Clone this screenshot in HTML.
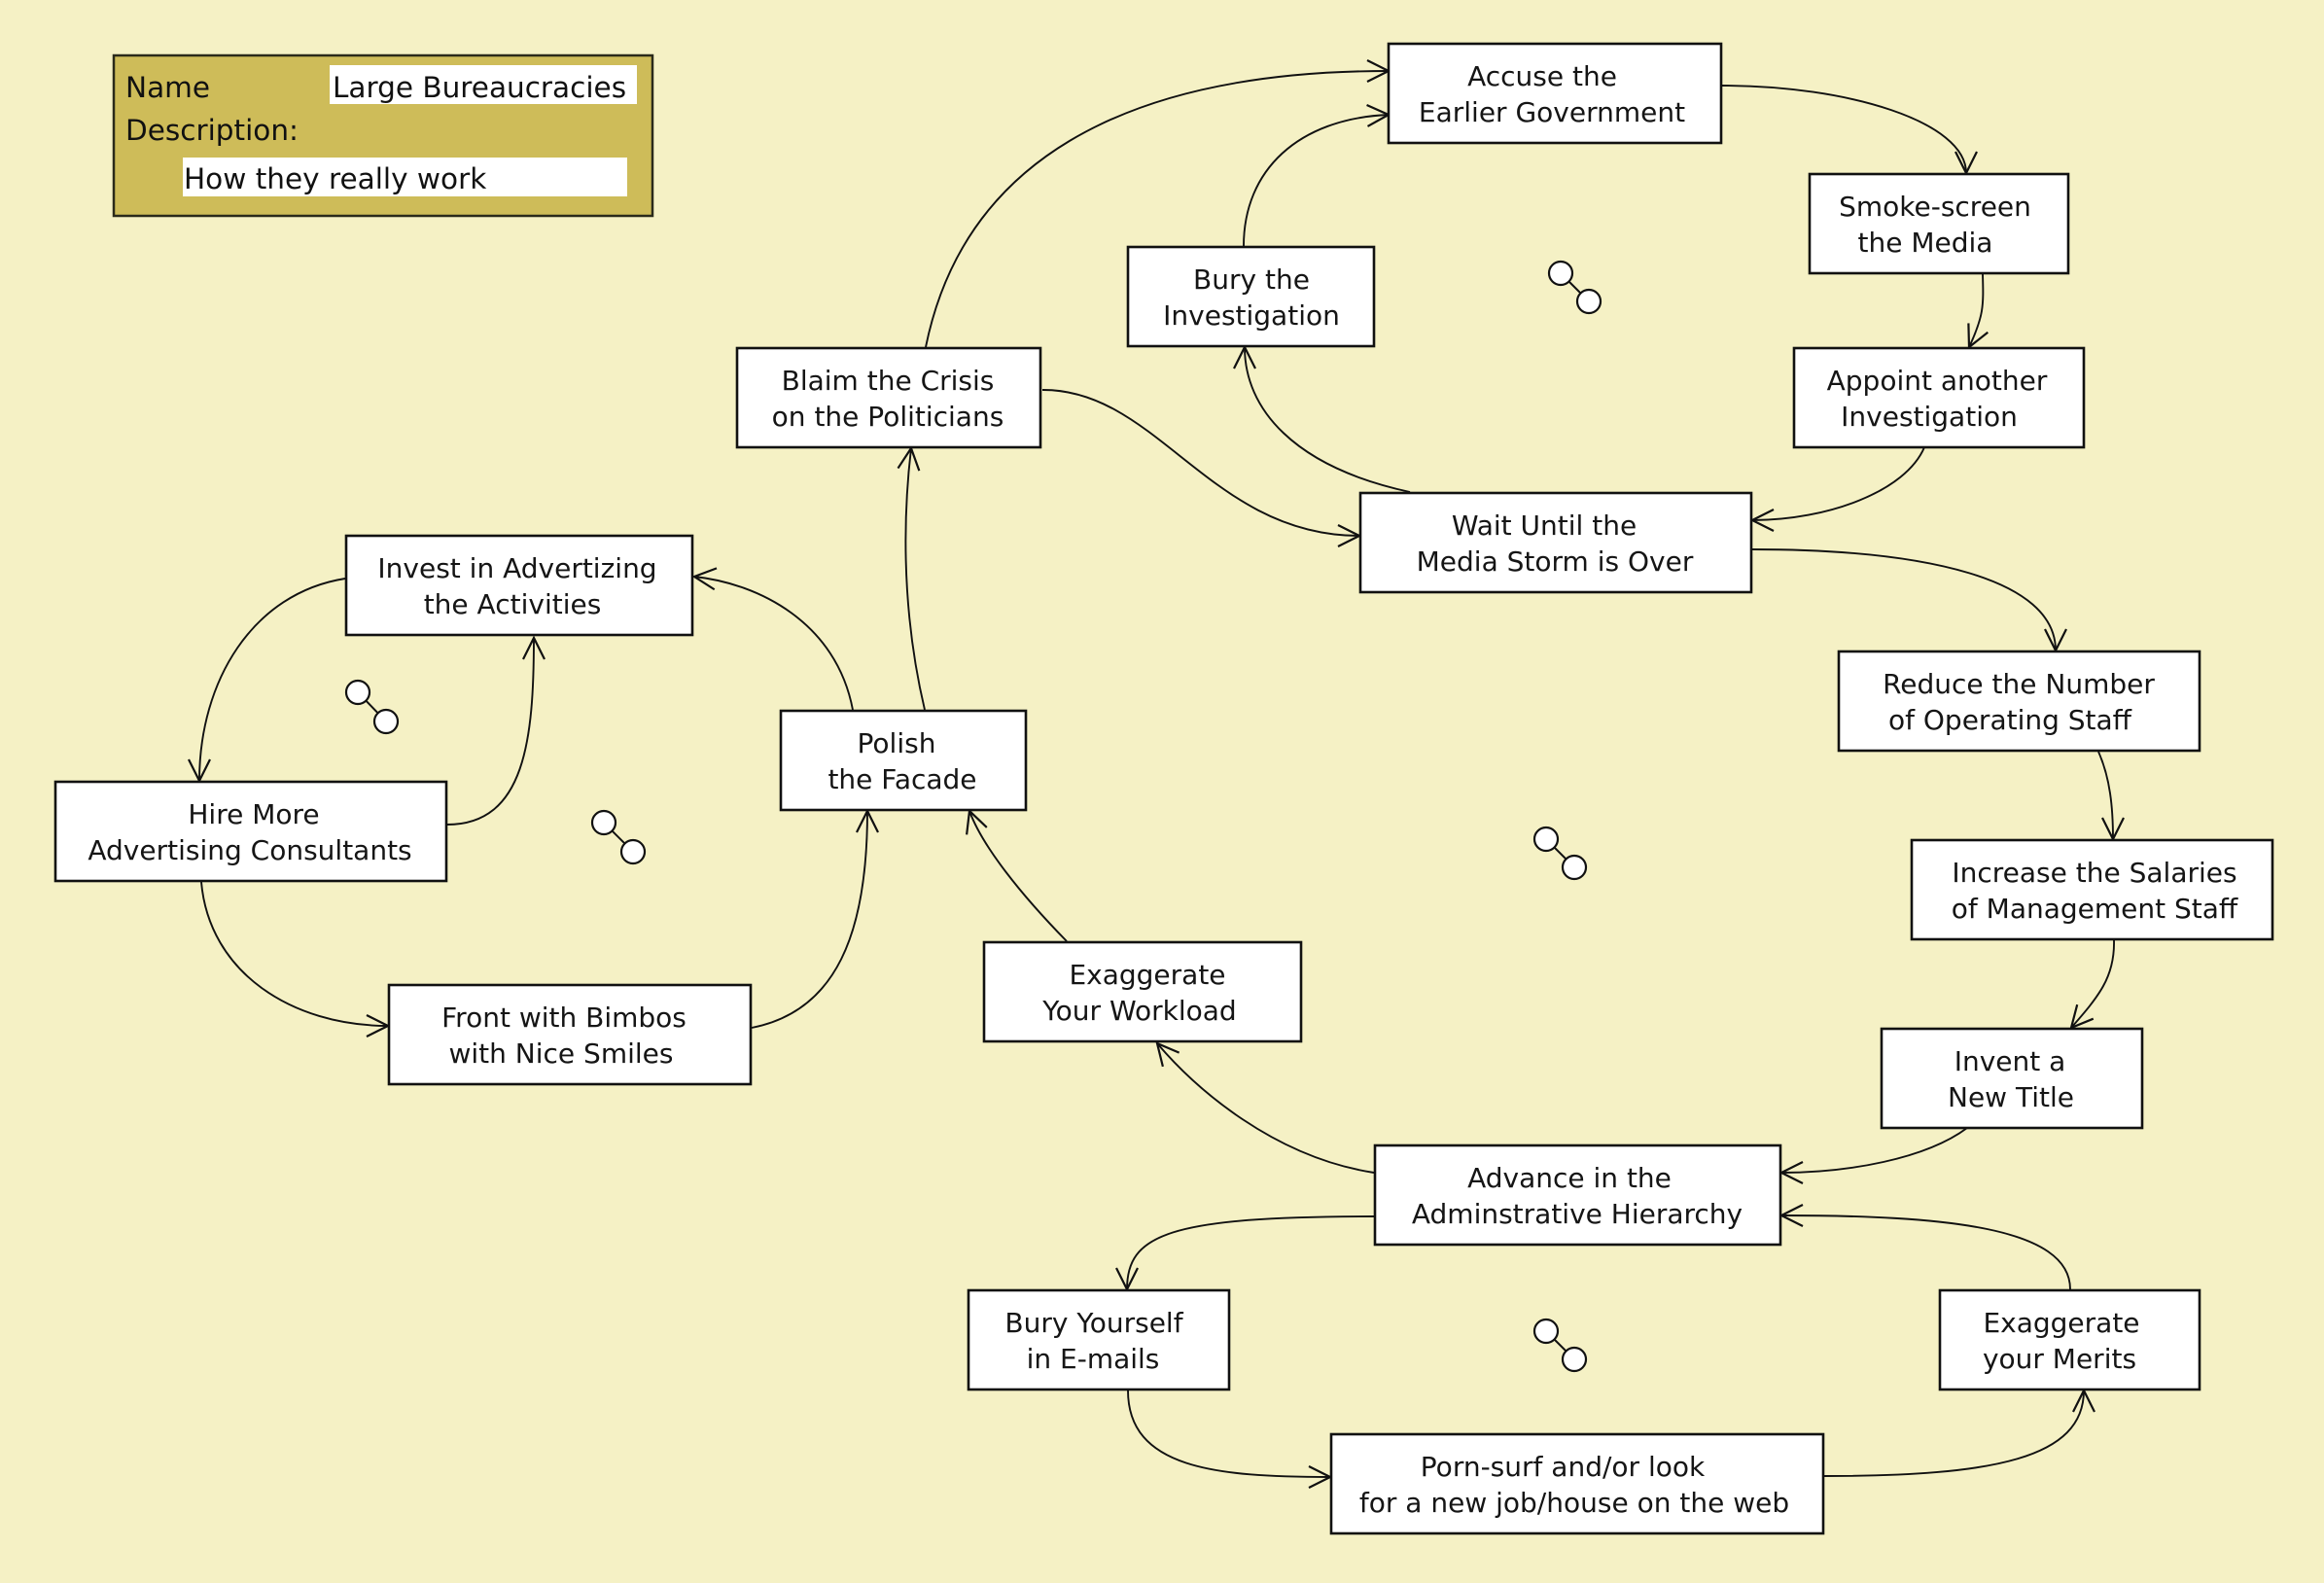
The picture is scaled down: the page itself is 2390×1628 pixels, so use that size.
<!DOCTYPE html>
<html>
<head>
<meta charset="utf-8">
<style>
  html, body { margin: 0; padding: 0; background: #F5F1C5; }
  svg { display: block; }
  .node rect { fill: #ffffff; stroke: #111; stroke-width: 2.6; }
  .node text { font-family: "DejaVu Sans", "Liberation Sans", sans-serif; font-size: 28px; fill: #151515; text-anchor: middle; }
  .edge { fill: none; stroke: #111; stroke-width: 1.9; marker-end: url(#arr); }
  .loop line { stroke: #111; stroke-width: 2; }
  .loop circle { fill: #fff; stroke: #111; stroke-width: 2.2; }
  .title text { font-family: "DejaVu Sans", "Liberation Sans", sans-serif; font-size: 29.5px; fill: #111; }
</style>
</head>
<body>
<svg width="2390" height="1628" viewBox="0 0 2390 1628" xmlns="http://www.w3.org/2000/svg">
  <defs>
    <marker id="arr" markerUnits="userSpaceOnUse" markerWidth="60" markerHeight="60" refX="0" refY="0" viewBox="-30 -30 60 60" orient="auto" overflow="visible">
      <path d="M-22,-11 L0,0 L-22,11" fill="none" stroke="#111" stroke-width="2.2"/>
    </marker>
  </defs>

  <rect x="0" y="0" width="2390" height="1628" fill="#F5F1C5"/>

  <!-- Title box -->
  <g class="title">
    <rect x="117" y="57" width="554" height="165" fill="#CEBC59" stroke="#2a2a1a" stroke-width="2.5"/>
    <rect x="339" y="67" width="316" height="40" fill="#ffffff"/>
    <rect x="188" y="162" width="457" height="40" fill="#ffffff"/>
    <text x="129" y="100">Name</text>
    <text x="342" y="100">Large Bureaucracies</text>
    <text x="129" y="144">Description:</text>
    <text x="189" y="194">How they really work</text>
  </g>

  <!-- Connectors -->
  <path class="edge" d="M952,357 C990,170 1150,73 1428,73"/>
  <path class="edge" d="M1279,253 C1279,175 1335,122 1428,118"/>
  <path class="edge" d="M1771,88 C1900,88 2022,125 2022,178"/>
  <path class="edge" d="M2039,282 C2040,315 2040,325 2025,357"/>
  <path class="edge" d="M1979,460 C1960,505 1880,535 1802,535"/>
  <path class="edge" d="M1450,506 C1330,480 1280,420 1280,357"/>
  <path class="edge" d="M1072,401 C1190,400 1245,551 1398,551"/>
  <path class="edge" d="M1802,565 C1980,565 2114,595 2114,669"/>
  <path class="edge" d="M2158,773 C2170,800 2173,830 2173,863"/>
  <path class="edge" d="M2174,967 C2175,1005 2158,1025 2130,1057"/>
  <path class="edge" d="M2023,1160 C1980,1192 1900,1206 1832,1206"/>
  <path class="edge" d="M1413,1206 C1310,1190 1230,1120 1190,1073"/>
  <path class="edge" d="M1097,968 C1050,920 1010,870 997,834"/>
  <path class="edge" d="M951,730 C925,620 930,520 937,461"/>
  <path class="edge" d="M877,730 C860,640 780,600 714,593"/>
  <path class="edge" d="M355,595 C260,610 205,700 205,803"/>
  <path class="edge" d="M460,848 C540,848 549,760 549,656"/>
  <path class="edge" d="M207,907 C215,1000 300,1055 399,1055"/>
  <path class="edge" d="M773,1057 C860,1040 892,960 892,834"/>
  <path class="edge" d="M1413,1251 C1200,1251 1159,1270 1159,1326"/>
  <path class="edge" d="M1160,1430 C1160,1510 1250,1519 1368,1519"/>
  <path class="edge" d="M1876,1518 C2050,1518 2143,1500 2143,1430"/>
  <path class="edge" d="M2129,1326 C2129,1262 2000,1250 1832,1250"/>

  <!-- Loop icons -->
  <g class="loop">
    <line x1="1605" y1="281" x2="1634" y2="310"/><circle cx="1605" cy="281" r="12"/><circle cx="1634" cy="310" r="12"/>
    <line x1="368" y1="712" x2="397" y2="742"/><circle cx="368" cy="712" r="12"/><circle cx="397" cy="742" r="12"/>
    <line x1="621" y1="846" x2="651" y2="876"/><circle cx="621" cy="846" r="12"/><circle cx="651" cy="876" r="12"/>
    <line x1="1590" y1="863" x2="1619" y2="892"/><circle cx="1590" cy="863" r="12"/><circle cx="1619" cy="892" r="12"/>
    <line x1="1590" y1="1369" x2="1619" y2="1398"/><circle cx="1590" cy="1369" r="12"/><circle cx="1619" cy="1398" r="12"/>
  </g>

  <!-- Nodes -->
  <g class="node">
    <rect x="1428" y="45" width="342" height="102"/>
    <text x="1586" y="88">Accuse the</text>
    <text x="1596" y="125">Earlier Government</text>
  </g>
  <g class="node">
    <rect x="1861" y="179" width="266" height="102"/>
    <text x="1990" y="222">Smoke-screen</text>
    <text x="1980" y="259">the Media</text>
  </g>
  <g class="node">
    <rect x="1160" y="254" width="253" height="102"/>
    <text x="1287" y="297">Bury the</text>
    <text x="1287" y="334">Investigation</text>
  </g>
  <g class="node">
    <rect x="1845" y="358" width="298" height="102"/>
    <text x="1992" y="401">Appoint another</text>
    <text x="1984" y="438">Investigation</text>
  </g>
  <g class="node">
    <rect x="758" y="358" width="312" height="102"/>
    <text x="913" y="401">Blaim the Crisis</text>
    <text x="913" y="438">on the Politicians</text>
  </g>
  <g class="node">
    <rect x="1399" y="507" width="402" height="102"/>
    <text x="1588" y="550">Wait Until the</text>
    <text x="1599" y="587">Media Storm is Over</text>
  </g>
  <g class="node">
    <rect x="356" y="551" width="356" height="102"/>
    <text x="532" y="594">Invest in Advertizing</text>
    <text x="527" y="631">the Activities</text>
  </g>
  <g class="node">
    <rect x="1891" y="670" width="371" height="102"/>
    <text x="2076" y="713">Reduce the Number</text>
    <text x="2067" y="750">of Operating Staff</text>
  </g>
  <g class="node">
    <rect x="803" y="731" width="252" height="102"/>
    <text x="922" y="774">Polish</text>
    <text x="928" y="811">the Facade</text>
  </g>
  <g class="node">
    <rect x="57" y="804" width="402" height="102"/>
    <text x="261" y="847">Hire More</text>
    <text x="257" y="884">Advertising Consultants</text>
  </g>
  <g class="node">
    <rect x="1966" y="864" width="371" height="102"/>
    <text x="2154" y="907">Increase the Salaries</text>
    <text x="2154" y="944">of Management Staff</text>
  </g>
  <g class="node">
    <rect x="1012" y="969" width="326" height="102"/>
    <text x="1180" y="1012">Exaggerate</text>
    <text x="1172" y="1049">Your Workload</text>
  </g>
  <g class="node">
    <rect x="400" y="1013" width="372" height="102"/>
    <text x="580" y="1056">Front with Bimbos</text>
    <text x="577" y="1093">with Nice Smiles</text>
  </g>
  <g class="node">
    <rect x="1935" y="1058" width="268" height="102"/>
    <text x="2067" y="1101">Invent a</text>
    <text x="2068" y="1138">New Title</text>
  </g>
  <g class="node">
    <rect x="1414" y="1178" width="417" height="102"/>
    <text x="1614" y="1221">Advance in the</text>
    <text x="1622" y="1258">Adminstrative Hierarchy</text>
  </g>
  <g class="node">
    <rect x="996" y="1327" width="268" height="102"/>
    <text x="1125" y="1370">Bury Yourself</text>
    <text x="1124" y="1407">in E-mails</text>
  </g>
  <g class="node">
    <rect x="1995" y="1327" width="267" height="102"/>
    <text x="2120" y="1370">Exaggerate</text>
    <text x="2118" y="1407">your Merits</text>
  </g>
  <g class="node">
    <rect x="1369" y="1475" width="506" height="102"/>
    <text x="1607" y="1518">Porn-surf and/or look</text>
    <text x="1619" y="1555">for a new job/house on the web</text>
  </g>
</svg>
</body>
</html>
